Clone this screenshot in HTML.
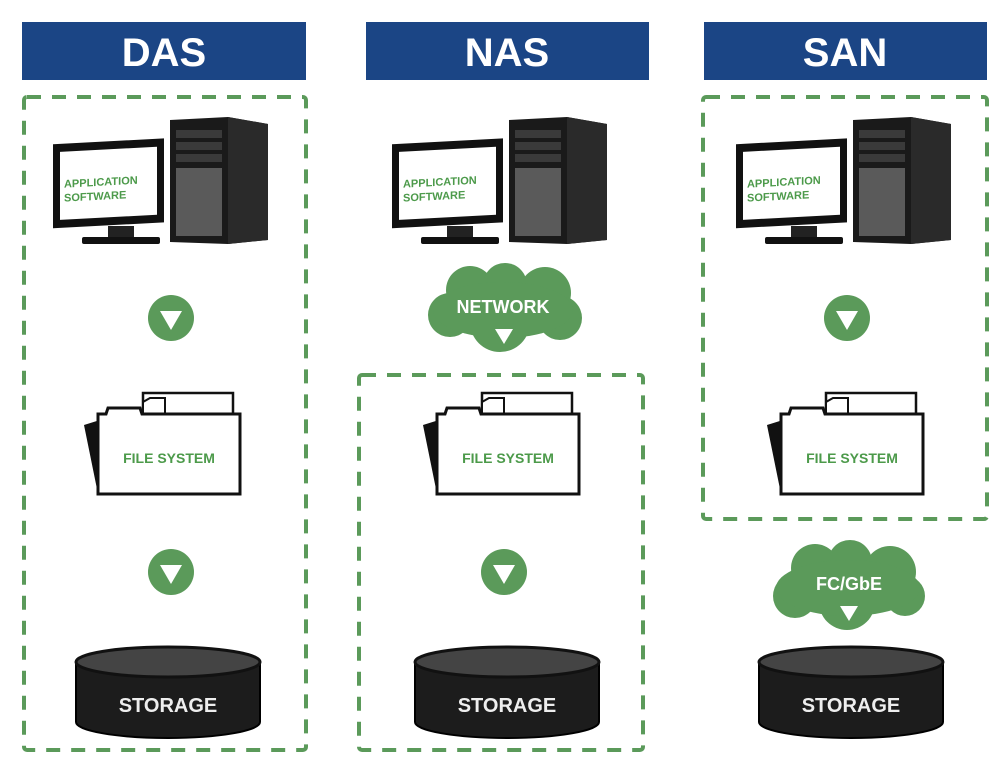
<!DOCTYPE html>
<html><head><meta charset="utf-8"><style>
html,body{margin:0;padding:0;background:#fff;}
svg{display:block;}
text{font-family:"Liberation Sans",sans-serif;font-weight:bold;}
</style></head><body>
<svg width="1006" height="772" viewBox="0 0 1006 772" xmlns="http://www.w3.org/2000/svg">
<rect x="22" y="22" width="284" height="58" fill="#1b4585"/>
<rect x="366" y="22" width="283" height="58" fill="#1b4585"/>
<rect x="704" y="22" width="283" height="58" fill="#1b4585"/>
<text x="164" y="66" font-size="40" fill="#fff" text-anchor="middle">DAS</text>
<text x="507" y="66" font-size="40" fill="#fff" text-anchor="middle">NAS</text>
<text x="845" y="66" font-size="40" fill="#fff" text-anchor="middle">SAN</text>
<g fill="none" stroke="#5b9a5a" stroke-width="4" stroke-dasharray="14,11">
<rect x="24" y="97" width="282" height="653" rx="3"/>
<rect x="359" y="375" width="284" height="375" rx="3"/>
<rect x="703" y="97" width="284" height="422" rx="3"/>
</g>

<g>
 <g>
  <rect x="53" y="142" width="111" height="84" fill="#111" transform="skewY(-3) translate(0,5)"/>
  <rect x="60" y="150" width="97" height="68" fill="#fff" transform="skewY(-3) translate(0,5)"/>
  <rect x="108" y="226" width="26" height="12" fill="#222"/>
  <rect x="82" y="237" width="78" height="7" rx="2" fill="#111"/>
  <polygon points="170,120 228,117 268,124 268,240 228,244 170,242" fill="#1a1a1a"/>
  <polygon points="228,117 268,124 268,240 228,244" fill="#2a2a2a"/>
  <rect x="176" y="130" width="46" height="8" fill="#3a3a3a"/>
  <rect x="176" y="142" width="46" height="8" fill="#3a3a3a"/>
  <rect x="176" y="154" width="46" height="8" fill="#3a3a3a"/>
  <rect x="176" y="168" width="46" height="68" fill="#5a5a5a"/>
  <text x="64" y="182" font-size="11" fill="#4c9a4a" transform="skewY(-3) translate(0,9)">APPLICATION</text>
  <text x="64" y="196" font-size="11" fill="#4c9a4a" transform="skewY(-3) translate(0,9)">SOFTWARE</text>
 </g>
 <g>
  <polygon points="143,414 143,393 233,393 233,414" fill="#fff" stroke="#111" stroke-width="2.5"/>
  <polygon points="143,414 143,402 150,398 165,398 165,414" fill="#fff" stroke="#111" stroke-width="2"/>
  <polygon points="84,425 100,420 100,494 98,494" fill="#111"/>
  <path d="M98,494 L98,414 L106,414 L108,408 L140,408 L142,414 L240,414 L240,494 Z" fill="#fff" stroke="#111" stroke-width="3"/>
  <text x="169" y="463" font-size="14" fill="#4c9a4a" text-anchor="middle">FILE SYSTEM</text>
 </g>
 <g>
  <path d="M76,662 L76,722 A92,16 0 0 0 260,722 L260,662 Z" fill="#1c1c1c" stroke="#000" stroke-width="2"/>
  <ellipse cx="168" cy="662" rx="92" ry="15" fill="#444" stroke="#111" stroke-width="3"/>
  <text x="168" y="712" font-size="20" fill="#eee" text-anchor="middle">STORAGE</text>
 </g>
</g>
<g transform="translate(339,0)">
 <g>
  <rect x="53" y="142" width="111" height="84" fill="#111" transform="skewY(-3) translate(0,5)"/>
  <rect x="60" y="150" width="97" height="68" fill="#fff" transform="skewY(-3) translate(0,5)"/>
  <rect x="108" y="226" width="26" height="12" fill="#222"/>
  <rect x="82" y="237" width="78" height="7" rx="2" fill="#111"/>
  <polygon points="170,120 228,117 268,124 268,240 228,244 170,242" fill="#1a1a1a"/>
  <polygon points="228,117 268,124 268,240 228,244" fill="#2a2a2a"/>
  <rect x="176" y="130" width="46" height="8" fill="#3a3a3a"/>
  <rect x="176" y="142" width="46" height="8" fill="#3a3a3a"/>
  <rect x="176" y="154" width="46" height="8" fill="#3a3a3a"/>
  <rect x="176" y="168" width="46" height="68" fill="#5a5a5a"/>
  <text x="64" y="182" font-size="11" fill="#4c9a4a" transform="skewY(-3) translate(0,9)">APPLICATION</text>
  <text x="64" y="196" font-size="11" fill="#4c9a4a" transform="skewY(-3) translate(0,9)">SOFTWARE</text>
 </g>
 <g>
  <polygon points="143,414 143,393 233,393 233,414" fill="#fff" stroke="#111" stroke-width="2.5"/>
  <polygon points="143,414 143,402 150,398 165,398 165,414" fill="#fff" stroke="#111" stroke-width="2"/>
  <polygon points="84,425 100,420 100,494 98,494" fill="#111"/>
  <path d="M98,494 L98,414 L106,414 L108,408 L140,408 L142,414 L240,414 L240,494 Z" fill="#fff" stroke="#111" stroke-width="3"/>
  <text x="169" y="463" font-size="14" fill="#4c9a4a" text-anchor="middle">FILE SYSTEM</text>
 </g>
 <g>
  <path d="M76,662 L76,722 A92,16 0 0 0 260,722 L260,662 Z" fill="#1c1c1c" stroke="#000" stroke-width="2"/>
  <ellipse cx="168" cy="662" rx="92" ry="15" fill="#444" stroke="#111" stroke-width="3"/>
  <text x="168" y="712" font-size="20" fill="#eee" text-anchor="middle">STORAGE</text>
 </g>
</g>
<g transform="translate(683,0)">
 <g>
  <rect x="53" y="142" width="111" height="84" fill="#111" transform="skewY(-3) translate(0,5)"/>
  <rect x="60" y="150" width="97" height="68" fill="#fff" transform="skewY(-3) translate(0,5)"/>
  <rect x="108" y="226" width="26" height="12" fill="#222"/>
  <rect x="82" y="237" width="78" height="7" rx="2" fill="#111"/>
  <polygon points="170,120 228,117 268,124 268,240 228,244 170,242" fill="#1a1a1a"/>
  <polygon points="228,117 268,124 268,240 228,244" fill="#2a2a2a"/>
  <rect x="176" y="130" width="46" height="8" fill="#3a3a3a"/>
  <rect x="176" y="142" width="46" height="8" fill="#3a3a3a"/>
  <rect x="176" y="154" width="46" height="8" fill="#3a3a3a"/>
  <rect x="176" y="168" width="46" height="68" fill="#5a5a5a"/>
  <text x="64" y="182" font-size="11" fill="#4c9a4a" transform="skewY(-3) translate(0,9)">APPLICATION</text>
  <text x="64" y="196" font-size="11" fill="#4c9a4a" transform="skewY(-3) translate(0,9)">SOFTWARE</text>
 </g>
 <g>
  <polygon points="143,414 143,393 233,393 233,414" fill="#fff" stroke="#111" stroke-width="2.5"/>
  <polygon points="143,414 143,402 150,398 165,398 165,414" fill="#fff" stroke="#111" stroke-width="2"/>
  <polygon points="84,425 100,420 100,494 98,494" fill="#111"/>
  <path d="M98,494 L98,414 L106,414 L108,408 L140,408 L142,414 L240,414 L240,494 Z" fill="#fff" stroke="#111" stroke-width="3"/>
  <text x="169" y="463" font-size="14" fill="#4c9a4a" text-anchor="middle">FILE SYSTEM</text>
 </g>
 <g>
  <path d="M76,662 L76,722 A92,16 0 0 0 260,722 L260,662 Z" fill="#1c1c1c" stroke="#000" stroke-width="2"/>
  <ellipse cx="168" cy="662" rx="92" ry="15" fill="#444" stroke="#111" stroke-width="3"/>
  <text x="168" y="712" font-size="20" fill="#eee" text-anchor="middle">STORAGE</text>
 </g>
</g>

<g fill="#5b9a5a">
<circle cx="171" cy="318" r="23"/>
<circle cx="171" cy="572" r="23"/>
<circle cx="504" cy="572" r="23"/>
<circle cx="847" cy="318" r="23"/>
</g>
<g fill="#fff">
<polygon points="160,311 182,311 171,330"/>
<polygon points="160,565 182,565 171,584"/>
<polygon points="493,565 515,565 504,584"/>
<polygon points="836,311 858,311 847,330"/>
</g>

<g fill="#5b9a5a">
<circle cx="470" cy="290" r="24"/><circle cx="505" cy="285" r="22"/><circle cx="545" cy="293" r="26"/>
<circle cx="450" cy="315" r="22"/><circle cx="500" cy="322" r="30"/><circle cx="560" cy="318" r="22"/>
<ellipse cx="503" cy="310" rx="70" ry="28"/>
<circle cx="815" cy="568" r="24"/><circle cx="850" cy="562" r="22"/><circle cx="890" cy="572" r="26"/>
<circle cx="795" cy="596" r="22"/><circle cx="847" cy="602" r="28"/><circle cx="905" cy="596" r="20"/>
<ellipse cx="848" cy="588" rx="72" ry="28"/>
</g>
<text x="503" y="313" font-size="18" fill="#fff" text-anchor="middle">NETWORK</text>
<polygon points="495,329 513,329 504,344" fill="#fff"/>
<text x="849" y="590" font-size="18" fill="#fff" text-anchor="middle">FC/GbE</text>
<polygon points="840,606 858,606 849,621" fill="#fff"/>
</svg>
</body></html>
